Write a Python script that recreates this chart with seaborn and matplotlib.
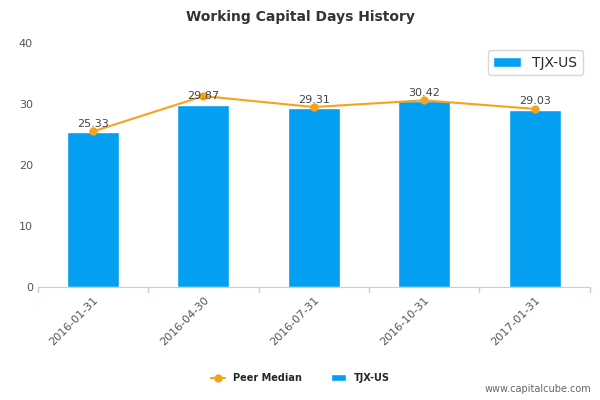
import matplotlib
matplotlib.use("Agg")
import matplotlib.pyplot as plt
import seaborn as sns
import pandas as pd
import numpy as np

dates = ["2016-01-31", "2016-04-30", "2016-07-31", "2016-10-31", "2017-01-31"]
tjx_values = [25.33, 29.87, 29.31, 30.42, 29.03]
peer_median = [25.5, 31.3, 29.5, 30.6, 29.2]

df = pd.DataFrame({"date": dates, "tjx": tjx_values, "peer": peer_median})

sns.set_style("white")
plt.rcParams["font.family"] = ["DejaVu Sans"]

fig = plt.figure(figsize=(6, 4), dpi=100)
ax = fig.add_axes([0.063, 0.2825, 0.92, 0.61])

sns.barplot(data=df, x="date", y="tjx", color="#049FF1", width=0.47,
            saturation=1, ax=ax, label="TJX-US")
x = np.arange(len(dates))
ax.plot(x, df["peer"], color="#F7A21B", lw=1.5, marker="o", ms=5,
        label="Peer Median")

for xi, v in zip(x, tjx_values):
    ax.text(xi, v + 0.6, f"{v:.2f}", ha="center", va="bottom",
            fontsize=8, color="#444444")

ax.set_ylim(0, 40)
ax.set_xlim(-0.5, len(dates) - 0.5)
ax.set_yticks([0, 10, 20, 30, 40])
ax.set_xlabel("")
ax.set_ylabel("")
ax.tick_params(axis="y", labelsize=8, colors="#555555", length=0)
ax.set_xticks(x)
ax.set_xticklabels(dates, rotation=45, ha="right", rotation_mode="anchor",
                   fontsize=8, color="#555555")
ax.tick_params(axis="x", length=0, pad=6)
for b in np.arange(-0.5, len(dates), 1.0):
    ax.plot([b, b], [0, -0.8], color="#C0D0E0", lw=1, clip_on=False)
for s in ["top", "right", "left"]:
    ax.spines[s].set_visible(False)
ax.spines["bottom"].set_color("#C0D0E0")

fig.suptitle("Working Capital Days History", x=0.5, y=0.975,
             fontsize=10, fontweight="bold", color="#333333")
fig.legend(loc="lower center", bbox_to_anchor=(0.5, 0.02), ncol=2,
           frameon=False, prop={"size": 7, "weight": "bold"},
           handlelength=1.5, columnspacing=3)
fig.text(0.985, 0.015, "www.capitalcube.com", ha="right", va="bottom",
         fontsize=7, color="#666666")

fig.savefig("out.png", dpi=100)
